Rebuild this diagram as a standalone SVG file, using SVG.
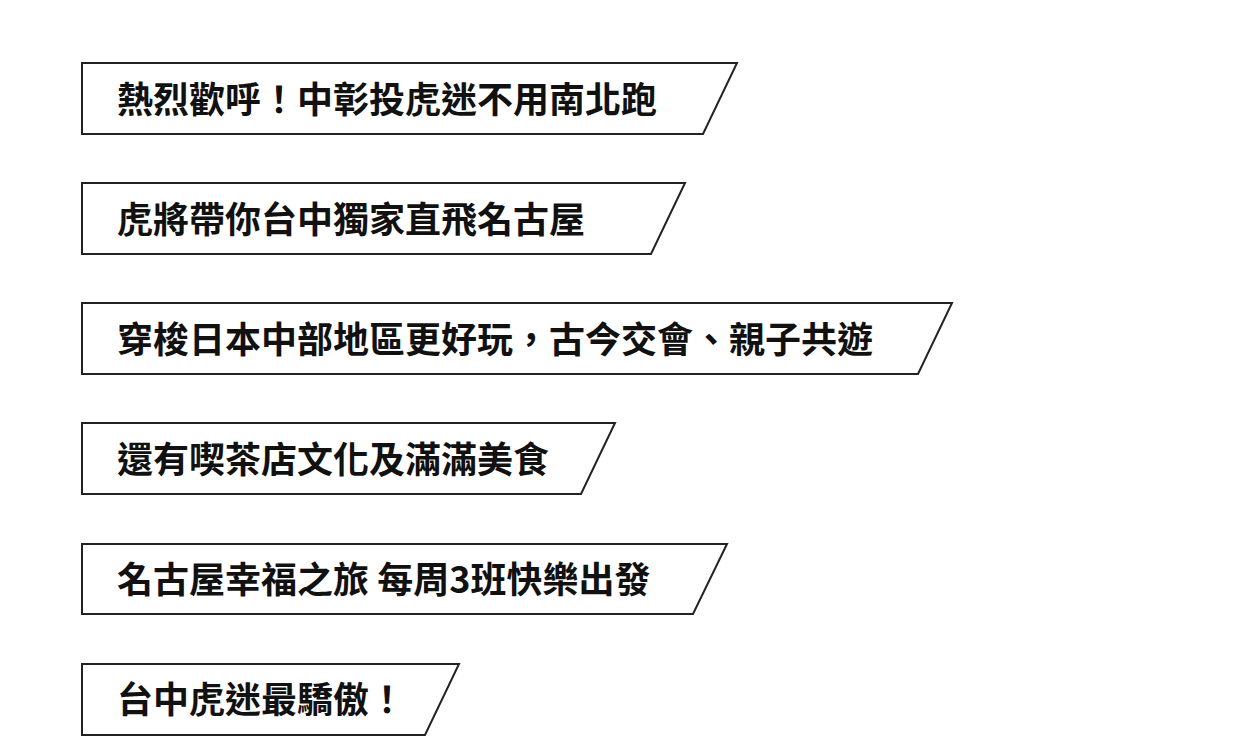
<svg xmlns="http://www.w3.org/2000/svg" width="1242" height="737" viewBox="0 0 1242 737">
<style>
.b{fill:#fff;stroke:#222;stroke-width:2}
.t{font-family:"Noto Sans CJK TC","Noto Sans CJK SC","Noto Sans",sans-serif;font-size:36px;font-weight:700;fill:#111}
</style>
<rect width="1242" height="737" fill="#fff"/>
<g id="banner1"><polygon class="b" points="82,63 737,63 703,134 82,134"/><text class="t" x="117" y="113">熱烈歡呼！中彰投虎迷不用南北跑</text></g>
<g id="banner2"><polygon class="b" points="82,183 685,183 651,254 82,254"/><text class="t" x="117" y="233">虎將帶你台中獨家直飛名古屋</text></g>
<g id="banner3"><polygon class="b" points="82,303 952,303 918,374 82,374"/><text class="t" x="117" y="353">穿梭日本中部地區更好玩，古今交會、親子共遊</text></g>
<g id="banner4"><polygon class="b" points="82,423 615,423 581,494 82,494"/><text class="t" x="117" y="473">還有喫茶店文化及滿滿美食</text></g>
<g id="banner5"><polygon class="b" points="82,544 727,544 693,614 82,614"/><text class="t" x="117" y="593">名古屋幸福之旅 每周3班快樂出發</text></g>
<g id="banner6"><polygon class="b" points="82,664 459,664 425,735 82,735"/><text class="t" x="117" y="713">台中虎迷最驕傲！</text></g>
<g id="connectors"></g>
</svg>
